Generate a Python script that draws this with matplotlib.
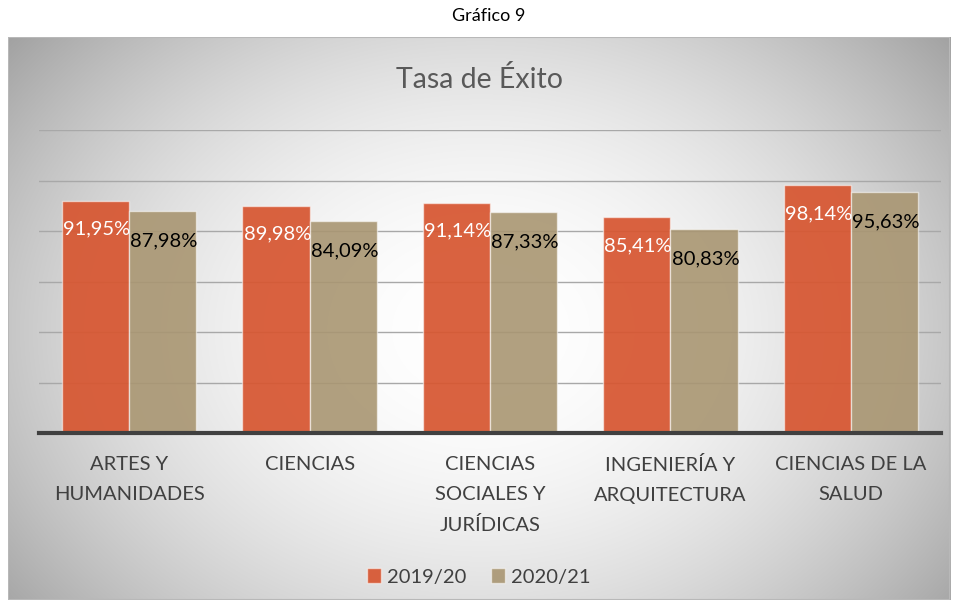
import numpy as np
import matplotlib.pyplot as plt
from matplotlib.patches import Rectangle

# data
categories = ['ARTES Y\nHUMANIDADES', 'CIENCIAS', 'CIENCIAS\nSOCIALES Y\nJURÍDICAS',
              'INGENIERÍA Y\nARQUITECTURA', 'CIENCIAS DE LA\nSALUD']
series_names = ['2019/20', '2020/21']
values_1920 = [91.95, 89.98, 91.14, 85.41, 98.14]
values_2021 = [87.98, 84.09, 87.33, 80.83, 95.63]

plt.rcParams['font.family'] = ['Lato', 'DejaVu Sans']

W, H = 958, 608
fig = plt.figure(figsize=(W / 100, H / 100), dpi=100)
fig.patch.set_facecolor('white')

# chart box with radial gradient
bx0, by0, bx1, by1 = 8, 37, 950, 600
bg = fig.add_axes([bx0 / W, 1 - by1 / H, (bx1 - bx0) / W, (by1 - by0) / H], zorder=0)
yy, xx = np.mgrid[by0:by1, bx0:bx1]
r = np.sqrt(((xx - 480) / 520.0) ** 2 + ((yy - 330) / 400.0) ** 2)
shade = 1 - 0.27 * np.clip(r, 0, 1.3) ** 2.0
bg.imshow(np.dstack([shade] * 3), aspect='auto', extent=[0, 1, 0, 1], interpolation='bilinear')
bg.add_patch(Rectangle((0, 0), 1, 1, transform=bg.transAxes, fill=False,
                       edgecolor='#b8b8b8', linewidth=1.5))
bg.set_axis_off()

# plot area
ax = fig.add_axes([39 / W, 1 - 433 / H, (941 - 39) / W, (433 - 130) / H], zorder=1)
ax.patch.set_alpha(0)
x = np.arange(len(categories))
bw = 0.372
ax.set_xlim(-0.5, len(categories) - 0.5)
ax.set_ylim(0, 120)
ax.set_yticks(np.arange(20, 121, 20))
ax.yaxis.grid(True, color='#a8a8a8', linewidth=1)
ax.set_axisbelow(True)
ax.tick_params(axis='y', left=False, labelleft=False)
ax.set_xticks(x)
ax.tick_params(axis='x', bottom=False, labelbottom=False)
for s in ['left', 'right', 'top']:
    ax.spines[s].set_visible(False)
ax.spines['bottom'].set_color('#404040')
ax.spines['bottom'].set_linewidth(3)

orange = (0.843, 0.337, 0.192, 0.93)
tan = (0.663, 0.588, 0.447, 0.9)
edge = (1, 1, 1, 0.55)
b1 = ax.bar(x - bw / 2, values_1920, bw, color=orange, edgecolor=edge, linewidth=1, label=series_names[0])
b2 = ax.bar(x + bw / 2, values_2021, bw, color=tan, edgecolor=edge, linewidth=1, label=series_names[1])

# category labels
for xi, cat in zip(x, categories):
    ax.annotate(cat, (xi, 0), xycoords=('data', 'axes fraction'), xytext=(0, -16.5),
                textcoords='offset points', ha='center', va='top', fontsize=14.5,
                color='#404040', linespacing=1.9, annotation_clip=False)

for xi, v in zip(x, values_1920):
    ax.annotate(f'{v:.2f}%'.replace('.', ','), (xi - bw / 2, v), xytext=(1, -20.5),
                textcoords='offset points', ha='center', va='center', fontsize=14.5, color='white')
for xi, v in zip(x, values_2021):
    ax.annotate(f'{v:.2f}%'.replace('.', ','), (xi + bw / 2, v), xytext=(1, -21.5),
                textcoords='offset points', ha='center', va='center', fontsize=14.5, color='black')

fig.text(0.5, 1 - 80 / H, 'Tasa de Éxito', ha='center', va='center', fontsize=20.5, color='#595959')
fig.text(489 / W, 1 - 16 / H, 'Gráfico 9', ha='center', va='center', fontsize=13, color='black')

leg = fig.legend(handles=[b1, b2], loc='center', bbox_to_anchor=(0.5, 1 - 577 / H), ncol=2,
                 frameon=False, fontsize=14.5, handlelength=0.7, handleheight=0.7,
                 handletextpad=0.3, columnspacing=1.2)
for t in leg.get_texts():
    t.set_color('#404040')

fig.savefig('out.png', dpi=100)
